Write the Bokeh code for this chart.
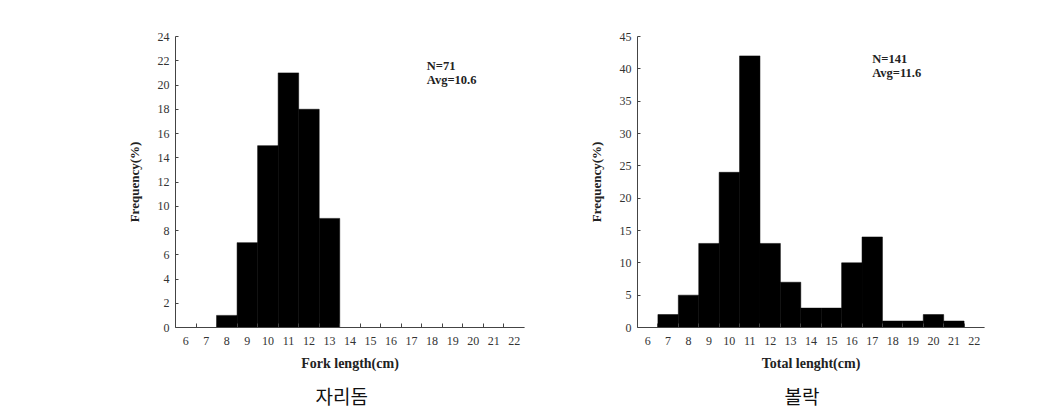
from bokeh.plotting import figure
from bokeh.layouts import row
from bokeh.models import Range1d, FixedTicker, Label, Title
from bokeh.embed import file_html
from bokeh.resources import INLINE

# ---- data ----
length_classes = [6, 7, 8, 9, 10, 11, 12, 13, 14, 15, 16, 17, 18, 19, 20, 21, 22]
damselfish_freq = [0, 0, 1, 7, 15, 21, 18, 9, 0, 0, 0, 0, 0, 0, 0, 0, 0]
rockfish_freq = [0, 2, 5, 13, 24, 42, 13, 7, 3, 3, 10, 14, 1, 1, 2, 1, 0]
left_yticks = [0, 2, 4, 6, 8, 10, 12, 14, 16, 18, 20, 22, 24]
right_yticks = [0, 5, 10, 15, 20, 25, 30, 35, 40, 45]
left_info = ["N=71", "Avg=10.6"]
right_info = ["N=141", "Avg=11.6"]
left_xlabel = "Fork length(cm)"
right_xlabel = "Total lenght(cm)"
ylabel = "Frequency(%)"
left_caption = "자리돔"
right_caption = "볼락"

SERIF = "Liberation Serif"
CJK = "Noto Sans CJK KR"


def make_fig(width, height, mb_left, mb_right, mb_top, mb_bottom, ymax, yticks,
             freq, xlabel, info, info_xy, caption, caption_offset):
    p = figure(width=width, height=height, output_backend="svg", toolbar_location=None,
               x_range=Range1d(length_classes[0] - 0.5, length_classes[-1] + 0.5),
               y_range=Range1d(0, ymax),
               min_border_left=mb_left, min_border_right=mb_right,
               min_border_top=mb_top, min_border_bottom=mb_bottom)
    p.outline_line_color = None
    p.grid.grid_line_color = None
    p.background_fill_color = "white"
    p.border_fill_color = "white"

    p.vbar(x=length_classes, top=freq, width=1.0, bottom=0,
           fill_color="black", line_color="black", line_width=0.5)

    xa = p.xaxis[0]
    xa.ticker = FixedTicker(ticks=length_classes,
                            minor_ticks=[c + 0.5 for c in length_classes[:-1]])
    xa.major_tick_line_color = None
    xa.minor_tick_in = 4
    xa.minor_tick_out = 0
    xa.minor_tick_line_color = "#444444"
    xa.axis_line_color = "#444444"
    xa.major_label_text_font = SERIF
    xa.major_label_text_font_size = "12px"
    xa.major_label_text_color = "#333333"
    xa.major_label_standoff = 3
    xa.axis_label = xlabel
    xa.axis_label_text_font = SERIF
    xa.axis_label_text_font_style = "bold"
    xa.axis_label_text_font_size = "14px"
    xa.axis_label_text_color = "#222222"
    xa.axis_label_standoff = 8

    ya = p.yaxis[0]
    ya.ticker = FixedTicker(ticks=yticks)
    ya.major_tick_in = 3
    ya.major_tick_out = 0
    ya.minor_tick_line_color = None
    ya.major_tick_line_color = "#444444"
    ya.axis_line_color = "#444444"
    ya.major_label_text_font = SERIF
    ya.major_label_text_font_size = "12px"
    ya.major_label_text_color = "#333333"
    ya.major_label_standoff = 6
    ya.axis_label = ylabel
    ya.axis_label_text_font = SERIF
    ya.axis_label_text_font_style = "bold"
    ya.axis_label_text_font_size = "13px"
    ya.axis_label_text_color = "#222222"
    ya.axis_label_standoff = 13

    (ix, iy1, iy2) = info_xy
    for txt, yy in zip(info, [iy1, iy2]):
        p.add_layout(Label(x=ix, y=yy, text=txt, text_font=SERIF,
                           text_font_style="bold", text_font_size="12.5px",
                           text_baseline="middle", text_align="left",
                           text_color="#222222"))

    p.add_layout(Title(text=caption, align="left", text_font=CJK,
                       text_font_size="19px", text_font_style="normal",
                       text_color="#111111", standoff=12, offset=caption_offset),
                 "below")
    return p


p1 = make_fig(580, 416, 175, 56, 35, 87, 24, left_yticks, damselfish_freq,
              left_xlabel, left_info, (17.74, 21.55, 20.4), left_caption, 140)
p2 = make_fig(466, 416, 57, 62, 36, 89, 45, right_yticks, rockfish_freq,
              right_xlabel, right_info, (17.0, 41.5, 39.4), right_caption, 147)

layout = row(p1, p2)
html = file_html(layout, INLINE)
open("out.html", "w").write(html)
